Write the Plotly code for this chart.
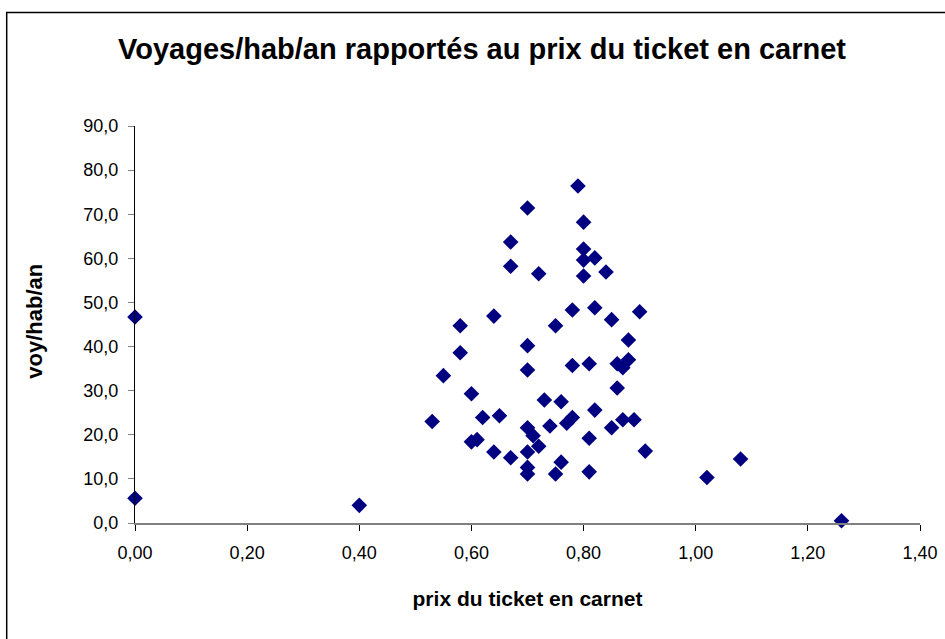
import plotly.graph_objects as go

# prix du ticket en carnet (EUR) / voyages par habitant et par an
prix = [0.00, 0.00, 0.40, 1.26, 1.02, 1.08, 0.91,
        0.79, 0.70, 0.80, 0.67, 0.80, 0.80, 0.82, 0.67, 0.72, 0.80, 0.84,
        0.78, 0.82, 0.90, 0.85, 0.64, 0.58, 0.75, 0.88, 0.70, 0.58,
        0.55, 0.70, 0.78, 0.81, 0.86, 0.88, 0.87, 0.86, 0.60, 0.73, 0.76, 0.82,
        0.53, 0.62, 0.65, 0.70, 0.71, 0.74, 0.77, 0.78, 0.85, 0.87, 0.89,
        0.81, 0.60, 0.61, 0.72, 0.64, 0.67, 0.70, 0.76, 0.70, 0.70, 0.75, 0.81]
voyages = [46.7, 5.6, 4.0, 0.5, 10.3, 14.5, 16.3,
           76.4, 71.4, 68.2, 63.7, 62.1, 59.6, 60.1, 58.2, 56.5, 56.0, 56.9,
           48.3, 48.8, 47.9, 46.1, 46.9, 44.7, 44.7, 41.5, 40.2, 38.6,
           33.4, 34.7, 35.7, 36.1, 36.1, 37.0, 35.2, 30.6, 29.3, 27.9, 27.5, 25.6,
           23.0, 23.9, 24.3, 21.6, 19.8, 22.0, 22.6, 23.9, 21.6, 23.4, 23.4,
           19.2, 18.4, 18.9, 17.4, 16.1, 14.8, 16.1, 13.8, 12.6, 11.1, 11.1, 11.6]

x_ticks = [0, 0.2, 0.4, 0.6, 0.8, 1.0, 1.2, 1.4]
y_ticks = [0, 10, 20, 30, 40, 50, 60, 70, 80, 90]

fnt = "Arial, Liberation Sans, sans-serif"

fig = go.Figure()
fig.add_trace(go.Scatter(
    x=prix, y=voyages, mode="markers", cliponaxis=False,
    marker=dict(symbol="diamond", size=12, color="#000080",
                line=dict(width=0)),
    showlegend=False,
))

fig.update_layout(
    width=945, height=639,
    paper_bgcolor="white", plot_bgcolor="white",
    separators=", ",
    margin=dict(l=134.5, r=25, t=125.7, b=115.7),
    font=dict(family=fnt, size=18, color="black"),
    title=dict(text="<b>Voyages/hab/an rapportés au prix du ticket en carnet</b>",
               x=482 / 945, xanchor="center", y=1 - 49 / 639, yanchor="middle",
               font=dict(size=29, family=fnt)),
)
fig.update_xaxes(
    range=[0, 1.4], tickvals=x_ticks, tickformat=".2f",
    showgrid=False, zeroline=False, showline=True, linecolor="#808080", linewidth=2,
    ticks="outside", ticklen=6, tickcolor="black", tickwidth=1,
    ticklabelstandoff=6, automargin=False, ticklabeloverflow="allow",
    title=dict(text="<b>prix du ticket en carnet</b>", standoff=30,
               font=dict(size=21)),
)
fig.update_yaxes(
    range=[0, 90], tickvals=y_ticks, tickformat=".1f",
    showgrid=False, zeroline=False, showline=True, linecolor="black", linewidth=1,
    ticks="outside", ticklen=6, tickcolor="#808080", tickwidth=1,
    ticklabelstandoff=6, automargin=False,
)
# y-axis title
fig.add_annotation(
    text="<b>voy/hab/an</b>", textangle=-90, showarrow=False,
    xref="paper", yref="paper", x=(33 - 134.5) / 786.2, y=(523.3 - 321) / 397.6,
    xanchor="center", yanchor="middle", font=dict(size=22),
)
# chart frame
fig.add_shape(
    type="rect", xref="paper", yref="paper",
    x0=(6 - 134.5) / 786.2, x1=(960 - 134.5) / 786.2,
    y0=(523.3 - 660) / 397.6, y1=(523.3 - 12) / 397.6,
    line=dict(color="black", width=1.5), layer="below",
)

fig.write_html("out.html", config={"displayModeBar": False},
               post_script="document.body.style.margin='0';")
